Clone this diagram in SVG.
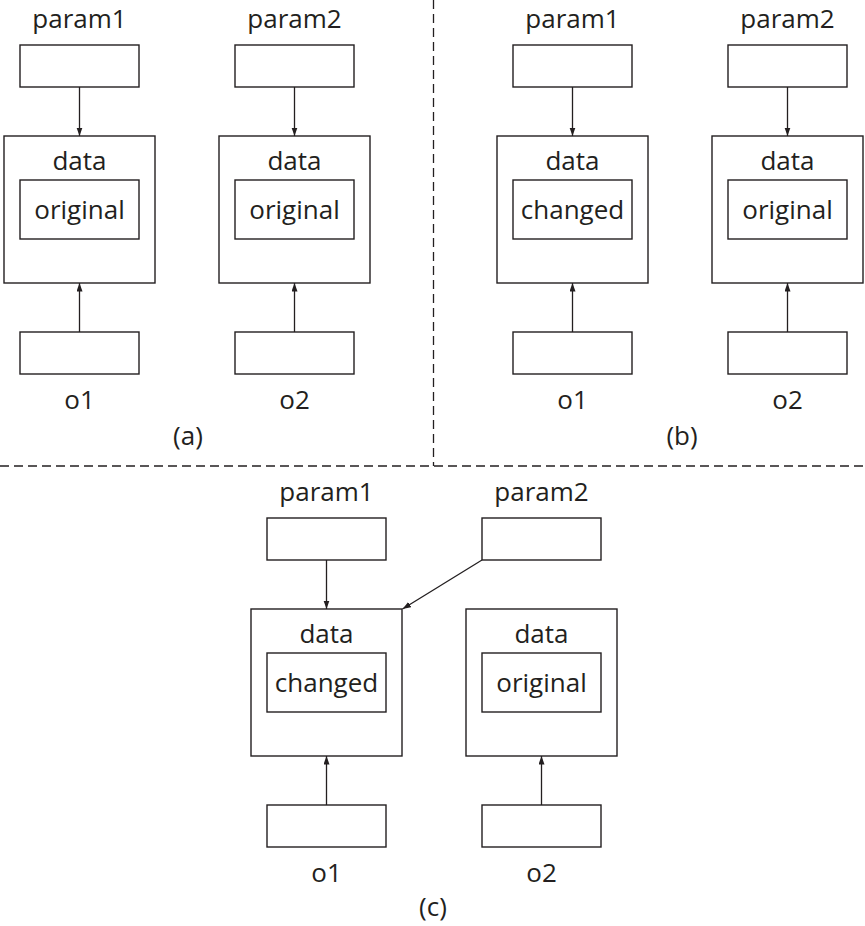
<svg xmlns="http://www.w3.org/2000/svg" width="865" height="926" viewBox="0 0 865 926">
<style>
.b{fill:#fff;stroke:#231f20;stroke-width:1.4}
.t{font-family:"Open Sans","Noto Sans",sans-serif;font-size:26px;fill:#231f20;text-anchor:middle}
.c{stroke:#231f20;stroke-width:1.3;fill:none;marker-end:url(#ah)}
.d{stroke:#231f20;stroke-width:1.3;fill:none;stroke-dasharray:9 5}
</style>
<defs>
<marker id="ah" markerUnits="userSpaceOnUse" markerWidth="9" markerHeight="7" refX="8.5" refY="3" orient="auto">
<path d="M0,0 L8.5,3 L0,6 z" fill="#231f20"/>
</marker>
</defs>
<rect width="865" height="926" fill="#fff"/>
<g id="dividers">
<line class="d" x1="433.5" y1="0" x2="433.5" y2="466"/>
<line class="d" x1="0" y1="466" x2="865" y2="466"/>
</g>
<!-- (a) -->
<g id="a-param1"><text class="t" x="79.5" y="28">param1</text><rect class="b" x="20" y="45" width="119" height="42"/></g>
<g id="a-obj1"><rect class="b" x="4" y="136" width="151" height="147"/><text class="t" x="79.5" y="170">data</text><rect class="b" x="20" y="180" width="119" height="59"/><text class="t" x="79.5" y="219">original</text></g>
<g id="a-o1"><rect class="b" x="20" y="332" width="119" height="42"/><text class="t" x="79.5" y="409">o1</text></g>
<g id="a-param2"><text class="t" x="294.5" y="28">param2</text><rect class="b" x="235" y="45" width="119" height="42"/></g>
<g id="a-obj2"><rect class="b" x="219" y="136" width="151" height="147"/><text class="t" x="294.5" y="170">data</text><rect class="b" x="235" y="180" width="119" height="59"/><text class="t" x="294.5" y="219">original</text></g>
<g id="a-o2"><rect class="b" x="235" y="332" width="119" height="42"/><text class="t" x="294.5" y="409">o2</text></g>
<text class="t" x="188" y="445">(a)</text>
<!-- (b) -->
<g id="b-param1"><text class="t" x="572.5" y="28">param1</text><rect class="b" x="513" y="45" width="119" height="42"/></g>
<g id="b-obj1"><rect class="b" x="497" y="136" width="151" height="147"/><text class="t" x="572.5" y="170">data</text><rect class="b" x="513" y="180" width="119" height="59"/><text class="t" x="572.5" y="219">changed</text></g>
<g id="b-o1"><rect class="b" x="513" y="332" width="119" height="42"/><text class="t" x="572.5" y="409">o1</text></g>
<g id="b-param2"><text class="t" x="787.5" y="28">param2</text><rect class="b" x="728" y="45" width="119" height="42"/></g>
<g id="b-obj2"><rect class="b" x="712" y="136" width="151" height="147"/><text class="t" x="787.5" y="170">data</text><rect class="b" x="728" y="180" width="119" height="59"/><text class="t" x="787.5" y="219">original</text></g>
<g id="b-o2"><rect class="b" x="728" y="332" width="119" height="42"/><text class="t" x="787.5" y="409">o2</text></g>
<text class="t" x="682" y="445">(b)</text>
<!-- (c) -->
<g id="c-param1"><text class="t" x="326.5" y="501">param1</text><rect class="b" x="267" y="518" width="119" height="42"/></g>
<g id="c-obj1"><rect class="b" x="251" y="609" width="151" height="147"/><text class="t" x="326.5" y="643">data</text><rect class="b" x="267" y="653" width="119" height="59"/><text class="t" x="326.5" y="692">changed</text></g>
<g id="c-o1"><rect class="b" x="267" y="805" width="119" height="42"/><text class="t" x="326.5" y="882">o1</text></g>
<g id="c-param2"><text class="t" x="541.5" y="501">param2</text><rect class="b" x="482" y="518" width="119" height="42"/></g>
<g id="c-obj2"><rect class="b" x="466" y="609" width="151" height="147"/><text class="t" x="541.5" y="643">data</text><rect class="b" x="482" y="653" width="119" height="59"/><text class="t" x="541.5" y="692">original</text></g>
<g id="c-o2"><rect class="b" x="482" y="805" width="119" height="42"/><text class="t" x="541.5" y="882">o2</text></g>
<text class="t" x="433" y="916">(c)</text>
<g id="connectors">
<line class="c" x1="79.5" y1="87" x2="79.5" y2="136"/>
<line class="c" x1="79.5" y1="332" x2="79.5" y2="283"/>
<line class="c" x1="294.5" y1="87" x2="294.5" y2="136"/>
<line class="c" x1="294.5" y1="332" x2="294.5" y2="283"/>
<line class="c" x1="572.5" y1="87" x2="572.5" y2="136"/>
<line class="c" x1="572.5" y1="332" x2="572.5" y2="283"/>
<line class="c" x1="787.5" y1="87" x2="787.5" y2="136"/>
<line class="c" x1="787.5" y1="332" x2="787.5" y2="283"/>
<line class="c" x1="326.5" y1="560" x2="326.5" y2="609"/>
<line class="c" x1="326.5" y1="805" x2="326.5" y2="756"/>
<line class="c" x1="541.5" y1="805" x2="541.5" y2="756"/>
<line class="c" x1="482" y1="560" x2="402.5" y2="609"/>
</g>
</svg>
